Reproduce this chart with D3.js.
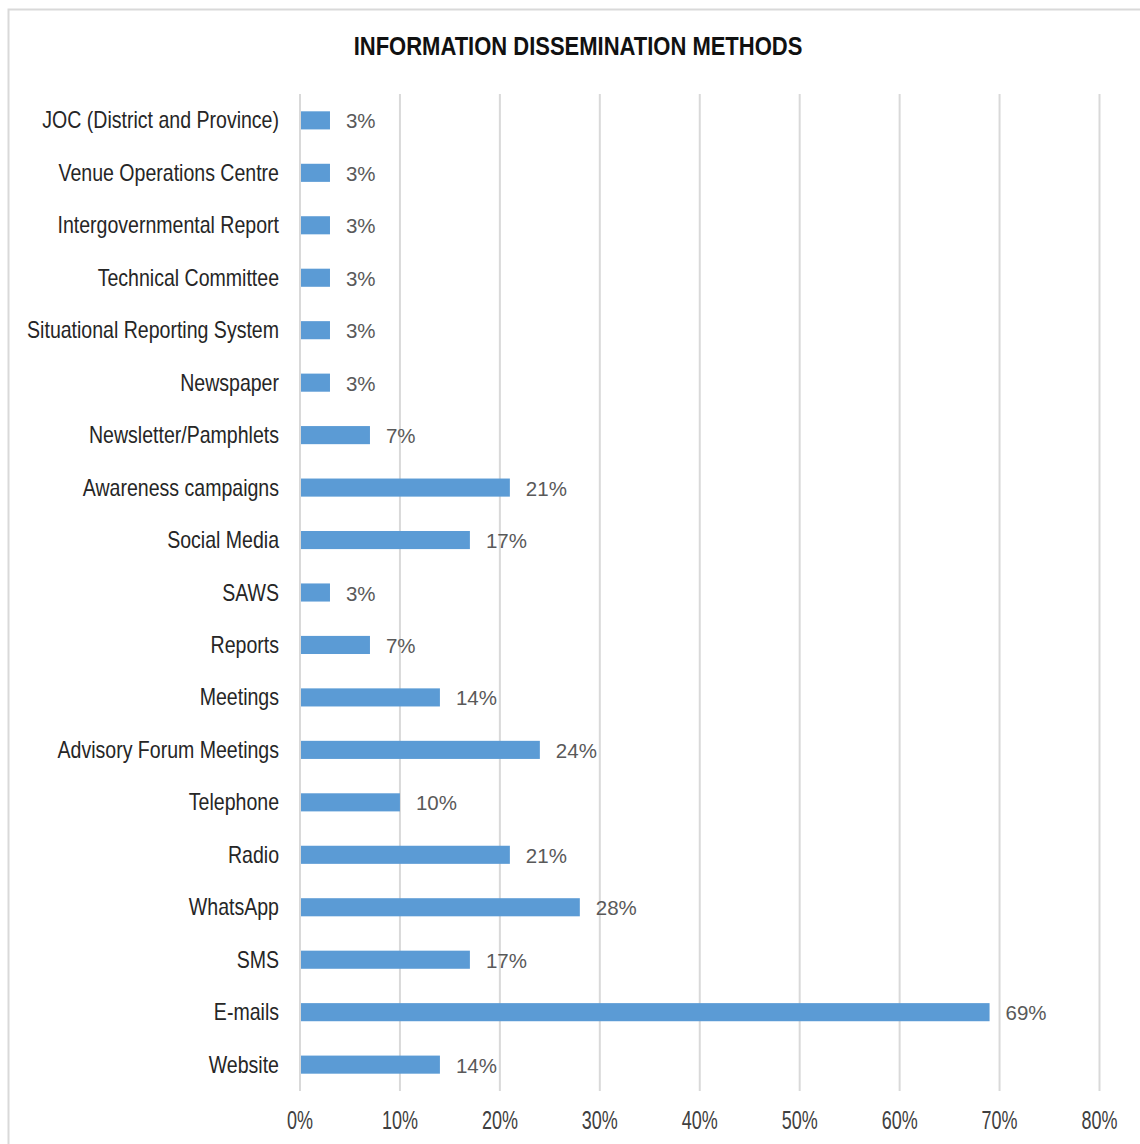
<!DOCTYPE html>
<html><head><meta charset="utf-8">
<script src="https://cdn.jsdelivr.net/npm/d3@7"></script>
<style>body{margin:0;background:#fff}svg{display:block}</style>
</head><body>
<svg id="c" width="1140" height="1144"></svg>
<script>
const categories = ["JOC (District and Province)","Venue Operations Centre","Intergovernmental Report","Technical Committee","Situational Reporting System","Newspaper","Newsletter/Pamphlets","Awareness campaigns","Social Media","SAWS","Reports","Meetings","Advisory Forum Meetings","Telephone","Radio","WhatsApp","SMS","E-mails","Website"];
const values = [3,3,3,3,3,3,7,21,17,3,7,14,24,10,21,28,17,69,14];
const tickValues = [0,10,20,30,40,50,60,70,80];
const title = "INFORMATION DISSEMINATION METHODS";

const svg = d3.select("#c");
const sans = "'Liberation Sans','Arial',sans-serif";
svg.append("rect").attr("x",8.5).attr("y",9.5).attr("width",1140).attr("height",1140)
  .attr("fill","#fff").attr("stroke","#d9d9d9").attr("stroke-width",2);

const x = d3.scaleLinear().domain([0,80]).range([300,1099.5]);
const y = d3.scaleBand().domain(categories).range([94,1091]).paddingInner(0.655).paddingOuter(0.33);

// title (condensed via horizontal scale)
svg.append("text").attr("transform","translate(578,55) scale(0.88,1)").attr("text-anchor","middle")
  .attr("font-family",sans).attr("font-weight","bold").attr("font-size",25).attr("fill","#111").text(title);

svg.append("g").selectAll("line").data(tickValues).join("line")
  .attr("x1",d=>x(d)).attr("x2",d=>x(d)).attr("y1",94).attr("y2",1091)
  .attr("stroke","#d9d9d9").attr("stroke-width",2);

// x tick labels
svg.append("g").selectAll("text").data(tickValues).join("text")
  .attr("transform",d=>`translate(${x(d)},1129) scale(0.72,1)`).attr("text-anchor","middle")
  .attr("font-family",sans).attr("font-size",25).attr("fill","#404040")
  .text(d=>d+"%");

// category labels
svg.append("g").selectAll("text").data(categories).join("text")
  .attr("transform",d=>`translate(279,${y(d)+y.bandwidth()/2+8}) scale(0.85,1)`).attr("text-anchor","end")
  .attr("font-family",sans).attr("font-size",23).attr("fill","#262626")
  .text(d=>d);

svg.append("g").selectAll("rect").data(categories).join("rect")
  .attr("x",x(0)+1).attr("y",d=>y(d)).attr("height",y.bandwidth())
  .attr("width",(d,i)=>x(values[i])-x(0)-1).attr("fill","#5b9bd5");

svg.append("g").selectAll("text").data(categories).join("text")
  .attr("x",(d,i)=>x(values[i])+16).attr("y",d=>y(d)+y.bandwidth()/2+8)
  .attr("font-family",sans).attr("font-size",20.5).attr("fill","#595959")
  .text((d,i)=>values[i]+"%");
</script>
</body></html>
